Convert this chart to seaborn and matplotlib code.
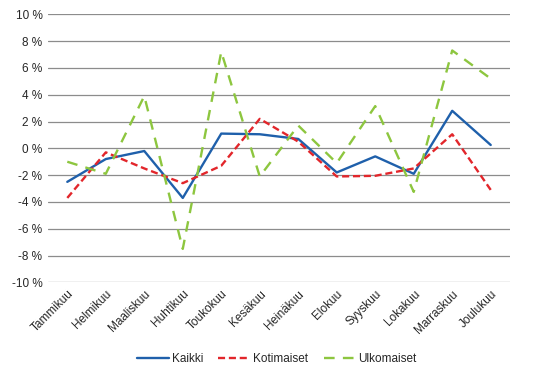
import pandas as pd
import seaborn as sns
import matplotlib.pyplot as plt

# Kuukaudet ja muutokset (%)
months = ['Tammikuu', 'Helmikuu', 'Maaliskuu', 'Huhtikuu', 'Toukokuu', 'Kesäkuu',
          'Heinäkuu', 'Elokuu', 'Syyskuu', 'Lokakuu', 'Marraskuu', 'Joulukuu']
kaikki = [-2.5, -0.8, -0.2, -3.7, 1.1, 1.05, 0.7, -1.8, -0.6, -1.9, 2.8, 0.25]
kotimaiset = [-3.7, -0.3, -1.5, -2.6, -1.3, 2.2, 0.5, -2.1, -2.05, -1.5, 1.05, -3.1]
ulkomaiset = [-1.0, -1.9, 3.9, -7.5, 7.2, -2.1, 1.7, -1.1, 3.15, -3.25, 7.3, 5.2]

series = ['Kaikki', 'Kotimaiset', 'Ulkomaiset']
df = pd.DataFrame({'kuukausi': months * 3,
                   'muutos': kaikki + kotimaiset + ulkomaiset,
                   'sarja': [s for s in series for _ in months]})
df['x'] = list(range(len(months))) * 3

sns.set_style('white')
plt.rcParams['font.family'] = ['Liberation Sans', 'DejaVu Sans']

fig = plt.figure(figsize=(5.46, 3.76), dpi=100)
ax = fig.add_axes([0.088, 0.249, 0.846, 0.713])

palette = {'Kaikki': '#1F60AB', 'Kotimaiset': '#E2262B', 'Ulkomaiset': '#8DC63F'}
dashes = {'Kaikki': '', 'Kotimaiset': (3, 1.6), 'Ulkomaiset': (4.5, 3.5)}
sns.lineplot(data=df, x='x', y='muutos', hue='sarja', style='sarja',
             palette=palette, dashes=dashes, linewidth=1.7, ax=ax)

ax.set_xlim(-0.5, 11.5)
ax.set_ylim(-10, 10)
ax.set_yticks(range(-10, 11, 2))
ax.set_yticklabels([f'{v} %' for v in range(-10, 11, 2)], fontsize=8.5)
ax.set_xticks(range(len(months)))
ax.set_xticklabels(months, rotation=45, ha='right', rotation_mode='anchor', fontsize=8.5)
ax.yaxis.grid(True, color='#8c8c8c', linewidth=0.9)
ax.set_axisbelow(True)
ax.tick_params(length=0, pad=4)
for s in ax.spines.values():
    s.set_visible(False)
ax.set_xlabel('')
ax.set_ylabel('')

ax.legend(loc='center', bbox_to_anchor=(0.495, -0.285), ncol=3, frameon=False,
          fontsize=8.5, handlelength=2.7, handletextpad=0.25, columnspacing=1.3)

fig.savefig('out.png', dpi=100)
